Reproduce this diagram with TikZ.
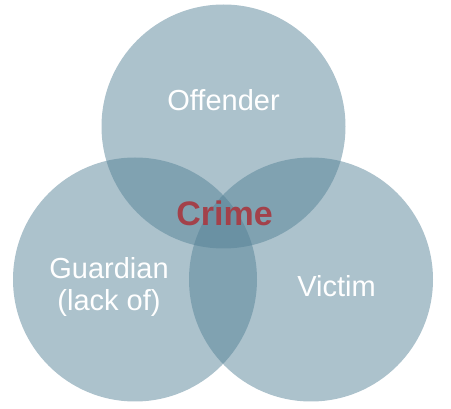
\documentclass[tikz,border=0pt]{standalone}
\usepackage{fontspec}
\setmainfont{Liberation Sans}
\usepackage{xcolor}
\usetikzlibrary{positioning}

\definecolor{venn}{HTML}{517F94}
\definecolor{crimered}{HTML}{A3414A}

\begin{document}
\begin{tikzpicture}[ x = 1pt
                     , y = -1pt
                     , set/.style = { circle
                                  , fill = venn
                                  , fill opacity = 0.48
                                  , minimum size = 244pt
                                  , inner sep = 0pt }
                     , tag/.style = { text = white
                                  , align = center
                                  , font = \fontsize{29}{32}\selectfont }
                     ]

  \useasboundingbox (0,0) rectangle (451,409);

  \node (offender) [set] at (223.5,126.5) {};
  \node (guardian) [set] at (135,279.5) {};
  \node (victim) [set] at (311,279.5) {};

  \node (offendertag) [tag] at (223.5,100) {Offender};
  \node (guardiantag) [tag] at (109,287) {Guardian\\(lack of)};
  \node (victimtag) [tag] at (336.5,286) {Victim};
  \node (crime) [text = crimered, font = \bfseries\fontsize{34}{40}\selectfont]
    at (224.5,213) {Crime};

\end{tikzpicture}
\end{document}
